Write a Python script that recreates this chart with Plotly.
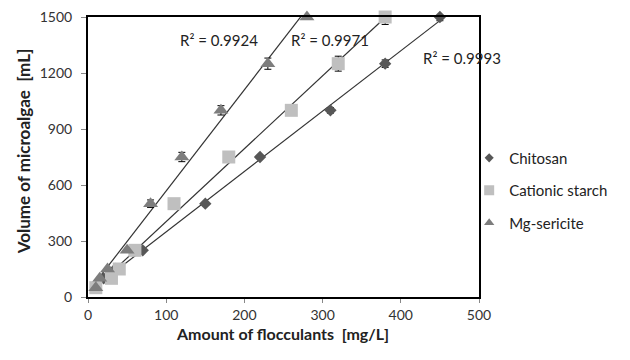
import numpy as np
import plotly.graph_objects as go

# Data
volume = [50, 100, 150, 250, 500, 750, 1000, 1250, 1500]
chitosan_x = [10, 20, 35, 70, 150, 220, 310, 380, 450]
starch_x = [10, 30, 40, 60, 110, 180, 260, 320, 380]
mg_x = [10, 15, 25, 50, 80, 120, 170, 230, 280]
chitosan_err = [0, 0, 0, 0, 0, 0, 15, 20, 20]
starch_err = [0, 0, 0, 0, 0, 0, 20, 40, 40]
mg_err = [0, 0, 0, 0, 20, 25, 25, 30, 0]
names = ["Chitosan", "Cationic starch", "Mg-sericite"]
r2_labels = ["R² = 0.9993", "R² = 0.9971", "R² = 0.9924"]
x_ticks = [0, 100, 200, 300, 400, 500]
y_ticks = [0, 300, 600, 900, 1200, 1500]
x_title = "Amount of flocculants  [mg/L]"
y_title = "Volume of microalgae  [mL]"

FONT = "Lato, 'Open Sans', sans-serif"

# page has an 8px body margin: figure origin is at (8, 8) in the screenshot
OFF = 8
W, H = 614, 360
PL, PR, PT, PB = 88 - OFF, 486 - OFF, 17 - OFF, 297 - OFF
PW, PH = PR - PL, PB - PT


def px(x):
    return (x - OFF - PL) / PW


def py(y):
    return 1 - (y - OFF - PT) / PH


series = [
    (names[0], chitosan_x, chitosan_err, "diamond", "#575757", 9.5, 7),
    (names[1], starch_x, starch_err, "square", "#bfbfbf", 13, 10),
    (names[2], mg_x, mg_err, "triangle-up", "#7d7d7d", 13, 9),
]

fig = go.Figure()

# trendlines (linear fit of each series)
for name, xs, err, sym, col, sz, lsz in series:
    k, b = np.polyfit(xs, volume, 1)
    xl = [min(xs), max(xs)]
    fig.add_trace(go.Scatter(x=xl, y=[k * v + b for v in xl], mode="lines",
                             line=dict(color="#333333", width=1.2),
                             showlegend=False, hoverinfo="skip"))

for name, xs, err, sym, col, sz, lsz in series:
    fig.add_trace(go.Scatter(
        x=xs, y=volume, mode="markers", name=name, showlegend=False,
        marker=dict(symbol=sym, color=col, size=sz, line=dict(width=0)),
        error_y=dict(type="data", array=err, visible=True, color="#000000",
                     thickness=1, width=3.5),
        cliponaxis=False,
    ))
    # legend entry with a smaller symbol
    fig.add_trace(go.Scatter(
        x=[None], y=[None], mode="markers", name=name, legendgroup=name,
        marker=dict(symbol=sym, color=col, size=lsz, line=dict(width=0)),
    ))

ann_pos = [(469, 58), (334, 40), (221, 40)]
for txt, (ax_, ay_) in zip(r2_labels, ann_pos):
    fig.add_annotation(x=px(ax_), y=py(ay_), xref="paper", yref="paper",
                       text=txt, showarrow=False, font=dict(family=FONT, size=15, color="#222222"),
                       xanchor="center", yanchor="middle")

# axis titles
fig.add_annotation(x=px(286), y=py(333), xref="paper", yref="paper", text="<b>" + x_title + "</b>",
                   showarrow=False, font=dict(family=FONT, size=16, color="#222222"),
                   xanchor="center", yanchor="middle")
fig.add_annotation(x=px(22), y=py(152), xref="paper", yref="paper", text="<b>" + y_title + "</b>",
                   showarrow=False, textangle=-90, font=dict(family=FONT, size=17, color="#222222"),
                   xanchor="center", yanchor="middle")

axis_common = dict(showline=True, linecolor="#000000", linewidth=2, mirror=True,
                   showgrid=False, zeroline=False, ticks="outside",
                   tickcolor="#888888", automargin=False, ticklabeloverflow="allow")

fig.update_layout(
    width=W, height=H,
    margin=dict(l=PL, r=W - PR, t=PT, b=H - PB),
    paper_bgcolor="white", plot_bgcolor="white",
    font=dict(family=FONT),
    xaxis=dict(range=[0, 500], tickvals=x_ticks, ticklen=4,
               tickfont=dict(family=FONT, size=14, color="#333333"), **axis_common),
    yaxis=dict(range=[0, 1500], tickvals=y_ticks, ticklen=5, ticklabelstandoff=6,
               tickfont=dict(family=FONT, size=14, color="#333333"), **axis_common),
    legend=dict(x=px(476), y=0.555, xanchor="left", yanchor="top",
                font=dict(family=FONT, size=15, color="#222222"),
                tracegroupgap=10, itemwidth=30, bgcolor="rgba(0,0,0,0)"),
)

fig.write_html("out.html")
